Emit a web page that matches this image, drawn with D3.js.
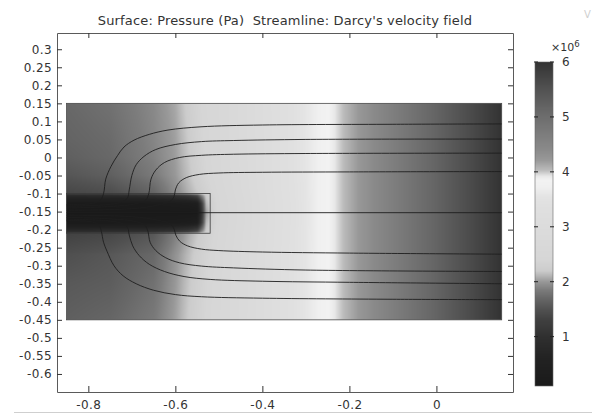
<!DOCTYPE html>
<html>
<head>
<meta charset="utf-8">
<script src="https://cdn.jsdelivr.net/npm/d3@7"></script>
<style>
  html, body { margin: 0; padding: 0; background: #fff; }
  svg { display: block; font-family: "DejaVu Sans", sans-serif; }
</style>
</head>
<body>
<svg id="chart" width="592" height="414"></svg>
<script>
// ---- axis ticks ----
const xTicks = [-0.8, -0.6, -0.4, -0.2, 0];
const yTicks = [0.3, 0.25, 0.2, 0.15, 0.1, 0.05, 0, -0.05, -0.1, -0.15, -0.2, -0.25,
                -0.3, -0.35, -0.4, -0.45, -0.5, -0.55, -0.6];
const colorbarTicks = [1, 2, 3, 4, 5, 6];          // ×10^6 Pa
const pressureRange = [0.101325, 6];                // ×10^6 Pa

// ---- geometry (m) ----
const domainX = [-0.85, 0.15];
const domainY = [-0.45, 0.15];
const wellBoxX = [-0.85, -0.52];
const wellBoxY = [-0.21, -0.1];

// ---- pressure surface, ×10^6 Pa, sampled on a (x, y) grid ----
const gridX = [-0.85, -0.75, -0.65, -0.6, -0.57, -0.55, -0.54, -0.53, -0.515, -0.5, -0.45, -0.26, 0.15];
const gridY = [0.15, 0.05, 0, -0.05, -0.09, -0.1, -0.105, -0.128, -0.153, -0.18, -0.205, -0.21, -0.27, -0.35, -0.45];
const pressureRows = [
  [1.70, 1.77, 1.92, 2.06, 2.25, 2.35, 2.40, 2.45, 2.50, 2.55, 2.78, 3.78, 6.0],
  [1.66, 1.72, 1.90, 2.03, 2.20, 2.32, 2.37, 2.42, 2.48, 2.54, 2.77, 3.78, 6.0],
  [1.62, 1.70, 1.88, 2.02, 2.18, 2.30, 2.35, 2.40, 2.47, 2.53, 2.77, 3.78, 6.0],
  [1.53, 1.62, 1.83, 2.00, 2.15, 2.27, 2.33, 2.38, 2.45, 2.52, 2.76, 3.78, 6.0],
  [1.40, 1.48, 1.70, 1.95, 2.10, 2.20, 2.26, 2.32, 2.40, 2.48, 2.74, 3.78, 6.0],
  [1.36, 1.44, 1.66, 1.92, 2.08, 2.18, 2.24, 2.30, 2.38, 2.47, 2.73, 3.78, 6.0],
  [0.85, 0.88, 0.95, 1.05, 1.20, 1.45, 1.90, 2.20, 2.35, 2.46, 2.72, 3.78, 6.0],
  [0.15, 0.15, 0.20, 0.25, 0.30, 0.40, 1.20, 2.10, 2.30, 2.44, 2.70, 3.78, 6.0],
  [0.10, 0.10, 0.10, 0.10, 0.10, 0.12, 1.00, 2.00, 2.28, 2.43, 2.70, 3.78, 6.0],
  [0.15, 0.15, 0.20, 0.25, 0.30, 0.40, 1.20, 2.10, 2.30, 2.44, 2.70, 3.78, 6.0],
  [0.90, 0.92, 0.98, 1.08, 1.22, 1.45, 1.90, 2.20, 2.35, 2.46, 2.72, 3.78, 6.0],
  [1.32, 1.38, 1.55, 1.86, 2.06, 2.17, 2.23, 2.29, 2.37, 2.46, 2.72, 3.78, 6.0],
  [1.47, 1.55, 1.70, 1.97, 2.13, 2.25, 2.30, 2.35, 2.42, 2.50, 2.75, 3.78, 6.0],
  [1.56, 1.60, 1.77, 2.00, 2.17, 2.28, 2.33, 2.38, 2.45, 2.52, 2.76, 3.78, 6.0],
  [1.62, 1.68, 1.83, 2.03, 2.20, 2.30, 2.35, 2.40, 2.47, 2.54, 2.77, 3.78, 6.0]
];

// ---- gray colour table (pressure ×10^6 Pa -> gray level) ----
const colorStopValues = [0.1, 0.6, 1.0, 1.3, 1.5, 1.7, 1.85, 2.0, 2.1, 2.2, 2.4, 3.0, 3.4, 3.55, 3.72, 3.85, 3.92, 4.03, 4.21, 4.41, 4.74, 5.15, 5.57, 6.0];
const colorStopGrays  = [26, 34, 48, 64, 82, 104, 124, 152, 180, 204, 214, 220, 224, 228, 240, 242, 232, 187, 153, 138, 122, 102, 78, 51];

// ---- streamlines of the Darcy velocity field (x, y in m) ----
const streamCenter = [[-0.85, -0.153], [0.15, -0.153]];
const streamUpper1 = [[-0.85, -0.146], [-0.70, -0.142], [-0.64, -0.132], [-0.612, -0.122], [-0.603, -0.108],
  [-0.6, -0.09], [-0.592, -0.07], [-0.575, -0.056], [-0.545, -0.047], [-0.5, -0.043], [-0.4, -0.041],
  [-0.2, -0.04], [0.15, -0.039]];
const streamUpper2 = [[-0.85, -0.140], [-0.75, -0.136], [-0.69, -0.128], [-0.668, -0.118], [-0.661, -0.1],
  [-0.656, -0.06], [-0.645, -0.035], [-0.625, -0.014], [-0.59, 0.0], [-0.54, 0.006], [-0.466, 0.009],
  [-0.3, 0.011], [0.15, 0.012]];
const streamUpper3 = [[-0.85, -0.135], [-0.76, -0.131], [-0.725, -0.124], [-0.71, -0.112], [-0.706, -0.09],
  [-0.7, -0.05], [-0.69, -0.02], [-0.672, 0.003], [-0.645, 0.022], [-0.6, 0.036], [-0.54, 0.044],
  [-0.466, 0.047], [-0.3, 0.05], [0.15, 0.051]];
const streamUpper4 = [[-0.85, -0.131], [-0.79, -0.127], [-0.772, -0.118], [-0.765, -0.1], [-0.76, -0.06],
  [-0.748, -0.025], [-0.733, 0.005], [-0.718, 0.029], [-0.695, 0.048], [-0.66, 0.064], [-0.617, 0.076],
  [-0.541, 0.085], [-0.4, 0.09], [-0.1, 0.092], [0.15, 0.093]];
const streamLower1 = [[-0.85, -0.16], [-0.70, -0.164], [-0.64, -0.174], [-0.612, -0.184], [-0.603, -0.198],
  [-0.599, -0.215], [-0.59, -0.232], [-0.572, -0.245], [-0.54, -0.254], [-0.5, -0.258], [-0.4, -0.262],
  [-0.2, -0.265], [0.15, -0.268]];
const streamLower2 = [[-0.85, -0.166], [-0.75, -0.17], [-0.69, -0.178], [-0.67, -0.188], [-0.663, -0.205],
  [-0.658, -0.235], [-0.645, -0.258], [-0.622, -0.278], [-0.59, -0.292], [-0.54, -0.301], [-0.466, -0.306],
  [-0.3, -0.312], [0.15, -0.316]];
const streamLower3 = [[-0.85, -0.171], [-0.76, -0.175], [-0.725, -0.182], [-0.71, -0.194], [-0.706, -0.215],
  [-0.698, -0.245], [-0.683, -0.272], [-0.66, -0.296], [-0.625, -0.316], [-0.58, -0.33], [-0.52, -0.338],
  [-0.4, -0.343], [-0.2, -0.346], [0.15, -0.35]];
const streamLower4 = [[-0.85, -0.175], [-0.79, -0.179], [-0.775, -0.188], [-0.77, -0.205], [-0.765, -0.235],
  [-0.757, -0.26], [-0.741, -0.3], [-0.72, -0.328], [-0.69, -0.35], [-0.65, -0.368], [-0.6, -0.38],
  [-0.54, -0.386], [-0.4, -0.39], [-0.1, -0.393], [0.15, -0.394]];
const streamlines = [streamCenter, streamUpper1, streamUpper2, streamUpper3, streamUpper4,
                     streamLower1, streamLower2, streamLower3, streamLower4];

// ---- layout ----
const svg = d3.select("#chart");
const plot = { left: 57, right: 513, top: 33, bottom: 392 };
const x = d3.scaleLinear().domain([-0.872, 0.176]).range([plot.left, plot.right]);
const y = d3.scaleLinear().domain([-0.65, 0.345]).range([plot.bottom, plot.top]);
const gray = d3.scaleLinear().domain(colorStopValues).range(colorStopGrays).clamp(true);

// bilinear lookup in the pressure grid
function bracket(arr, v, descending) {
  for (let i = 0; i < arr.length - 1; i++) {
    const a = arr[i], b = arr[i + 1];
    if (descending ? (v <= a && v >= b) : (v >= a && v <= b)) return i;
  }
  return descending ? (v > arr[0] ? 0 : arr.length - 2) : (v < arr[0] ? 0 : arr.length - 2);
}
function pressureAt(px, py) {
  const i = bracket(gridX, px, false), j = bracket(gridY, py, true);
  const tx = Math.max(0, Math.min(1, (px - gridX[i]) / (gridX[i + 1] - gridX[i])));
  const ty = Math.max(0, Math.min(1, (py - gridY[j]) / (gridY[j + 1] - gridY[j])));
  const p00 = pressureRows[j][i], p10 = pressureRows[j][i + 1];
  const p01 = pressureRows[j + 1][i], p11 = pressureRows[j + 1][i + 1];
  return (p00 * (1 - tx) + p10 * tx) * (1 - ty) + (p01 * (1 - tx) + p11 * tx) * ty;
}

// ---- surface plot ----
const fx0 = x(domainX[0]), fx1 = x(domainX[1]), fy0 = y(domainY[1]), fy1 = y(domainY[0]);
const scaleUp = 2;
const cw = Math.round((fx1 - fx0) * scaleUp), ch = Math.round((fy1 - fy0) * scaleUp);
const canvas = document.createElement("canvas");
canvas.width = cw; canvas.height = ch;
const ctx = canvas.getContext("2d");
const img = ctx.createImageData(cw, ch);
for (let r = 0; r < ch; r++) {
  const py = y.invert(fy0 + (r + 0.5) / scaleUp);
  for (let c = 0; c < cw; c++) {
    const px = x.invert(fx0 + (c + 0.5) / scaleUp);
    const g = Math.round(gray(pressureAt(px, py)));
    const k = (r * cw + c) * 4;
    img.data[k] = g; img.data[k + 1] = g; img.data[k + 2] = g; img.data[k + 3] = 255;
  }
}
ctx.putImageData(img, 0, 0);
svg.append("image")
  .attr("x", fx0).attr("y", fy0)
  .attr("width", fx1 - fx0).attr("height", fy1 - fy0)
  .attr("preserveAspectRatio", "none")
  .attr("href", canvas.toDataURL());

// geometry outlines
svg.append("rect")
  .attr("x", fx0).attr("y", fy0).attr("width", fx1 - fx0).attr("height", fy1 - fy0)
  .attr("fill", "none").attr("stroke", "#4a4a4a").attr("stroke-width", 0.8);
svg.append("rect")
  .attr("x", x(wellBoxX[0])).attr("y", y(wellBoxY[1]))
  .attr("width", x(wellBoxX[1]) - x(wellBoxX[0])).attr("height", y(wellBoxY[0]) - y(wellBoxY[1]))
  .attr("fill", "none").attr("stroke", "#3a3a3a").attr("stroke-width", 0.8);

// streamlines
const line = d3.line().x(d => x(d[0])).y(d => y(d[1])).curve(d3.curveCatmullRom.alpha(0.5));
svg.append("g").selectAll("path").data(streamlines).join("path")
  .attr("d", line).attr("fill", "none").attr("stroke", "#1e1e1e").attr("stroke-width", 0.9);

// ---- axes (frame with inward ticks) ----
const fmt = v => String(+v.toFixed(2));
function styleAxis(g) {
  g.attr("font-family", "DejaVu Sans, sans-serif").attr("font-size", 12);
  g.select(".domain").attr("stroke", "#5a5a5a").attr("stroke-width", 1);
  g.selectAll(".tick line").attr("stroke", "#333");
  g.selectAll(".tick text").attr("fill", "#333").attr("letter-spacing", 0.4);
}
svg.append("g").attr("transform", `translate(0,${plot.bottom})`)
  .call(d3.axisBottom(x).tickValues(xTicks).tickFormat(fmt).tickSize(-6).tickSizeOuter(0).tickPadding(8))
  .call(styleAxis);
svg.append("g").attr("transform", `translate(0,${plot.top})`)
  .call(d3.axisTop(x).tickValues(xTicks).tickFormat("").tickSize(-5).tickSizeOuter(0))
  .call(styleAxis);
svg.append("g").attr("transform", `translate(${plot.left},0)`)
  .call(d3.axisLeft(y).tickValues(yTicks).tickFormat(fmt).tickSize(-5).tickSizeOuter(0).tickPadding(5))
  .call(styleAxis);
svg.append("g").attr("transform", `translate(${plot.right},0)`)
  .call(d3.axisRight(y).tickValues(yTicks).tickFormat("").tickSize(-5).tickSizeOuter(0))
  .call(styleAxis);

// title
svg.append("text")
  .attr("x", 285).attr("y", 25).attr("text-anchor", "middle")
  .attr("font-size", 13).attr("letter-spacing", 0.15).attr("fill", "#333")
  .text("Surface: Pressure (Pa)\u00a0 Streamline: Darcy's velocity field");

// ---- colour legend ----
const cb = { left: 535, width: 18, top: 62, bottom: 386 };
const cbScale = d3.scaleLinear().domain(pressureRange).range([cb.bottom, cb.top]);
const cbCanvas = document.createElement("canvas");
cbCanvas.width = 1; cbCanvas.height = (cb.bottom - cb.top) * 2;
const cbCtx = cbCanvas.getContext("2d");
const cbImg = cbCtx.createImageData(1, cbCanvas.height);
for (let r = 0; r < cbCanvas.height; r++) {
  const g = Math.round(gray(cbScale.invert(cb.top + (r + 0.5) / 2)));
  cbImg.data[r * 4] = g; cbImg.data[r * 4 + 1] = g; cbImg.data[r * 4 + 2] = g; cbImg.data[r * 4 + 3] = 255;
}
cbCtx.putImageData(cbImg, 0, 0);
svg.append("image")
  .attr("x", cb.left).attr("y", cb.top).attr("width", cb.width).attr("height", cb.bottom - cb.top)
  .attr("preserveAspectRatio", "none").attr("href", cbCanvas.toDataURL());
svg.append("rect")
  .attr("x", cb.left).attr("y", cb.top).attr("width", cb.width).attr("height", cb.bottom - cb.top)
  .attr("fill", "none").attr("stroke", "#666").attr("stroke-width", 0.6);
const cbTicks = svg.append("g").selectAll("g").data(colorbarTicks).join("g")
  .attr("transform", d => `translate(0,${cbScale(d)})`);
cbTicks.append("line").attr("x1", cb.left - 1).attr("x2", cb.left + 3).attr("stroke", "#222");
cbTicks.append("line").attr("x1", cb.left + cb.width - 3).attr("x2", cb.left + cb.width + 1).attr("stroke", "#222");
cbTicks.append("text")
  .attr("x", 562).attr("dy", "0.36em")
  .attr("font-size", 12).attr("fill", "#333")
  .text(d => d);
const expo = svg.append("text").attr("x", 551).attr("y", 51).attr("font-size", 11).attr("fill", "#333");
expo.append("tspan").text("\u00d710");
expo.append("tspan").attr("dy", -4).attr("font-size", 8.5).text("6");

// small mark in the corner and the rule under the figure
svg.append("text").attr("x", 584).attr("y", 18).attr("font-size", 10).attr("fill", "#d0d0d0").text("V");
svg.append("line").attr("x1", 14).attr("x2", 592).attr("y1", 412.5).attr("y2", 412.5)
  .attr("stroke", "#cfcfcf").attr("stroke-width", 1);
</script>
</body>
</html>
